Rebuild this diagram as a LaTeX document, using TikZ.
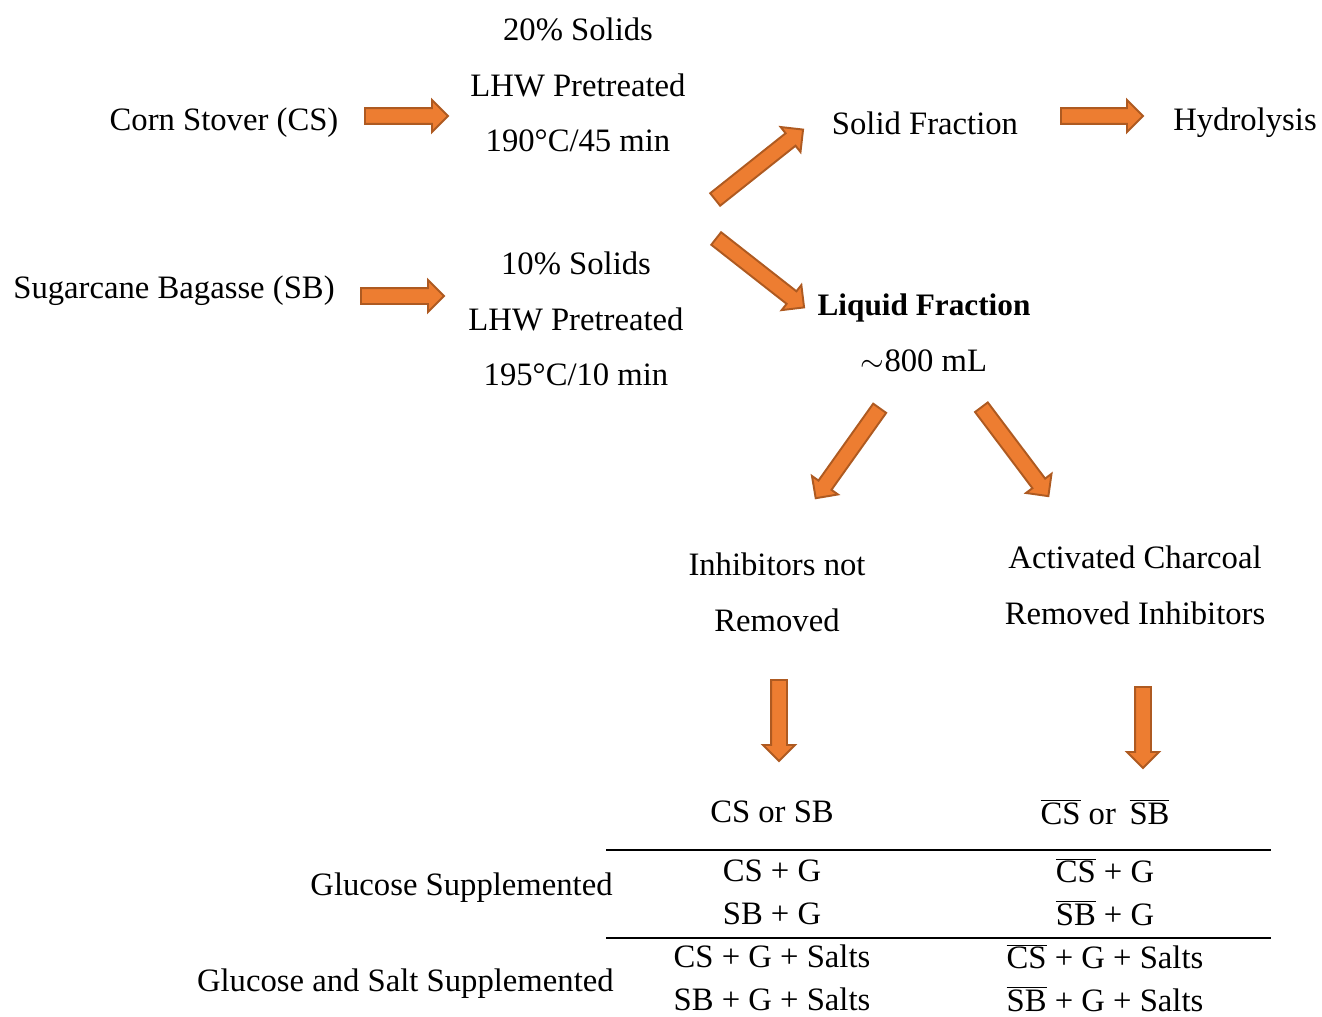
\documentclass[tikz,border=0pt]{standalone}
\usepackage{fontspec}
\setmainfont{Liberation Serif}
\usetikzlibrary{shapes.arrows,calc}

\definecolor{arroworange}{HTML}{ED7D31}
\definecolor{arrowedge}{HTML}{AE5A21}

\newcommand{\ol}[1]{$\overline{\mbox{#1}}$}
\newcommand{\fatarrow}[2]{%
  \path let \p1 = ($(#2)-(#1)$), \n1 = {veclen(\x1,\y1)} in
    (#1) -- node[fatarr, sloped, allow upside down, minimum height=\n1] {} (#2);}

\begin{document}
\begin{tikzpicture}[x=0.02cm, y=-0.02cm,
                    txt/.style = {align=center,
                                  inner sep=0pt,
                                  font=\fontsize{18.6}{31.7}\selectfont},
                    tab/.style = {align=center,
                                  inner sep=0pt,
                                  font=\fontsize{18.6}{24.4}\selectfont},
                    fatarr/.style = {single arrow,
                                     draw=arrowedge,
                                     fill=arroworange,
                                     line width=1.1pt,
                                     inner xsep=0pt,
                                     inner ysep=0.14cm,
                                     single arrow head extend=0.16cm}]
	\useasboundingbox (0,0) rectangle (1322,1017);

	% feedstocks and pretreatment
	\node[txt] (cs) at (224,123) {Corn Stover (CS)};
	\node[txt] (sb) at (174,291) {Sugarcane Bagasse (SB)};
	\node[txt] (pre1) at (578,85) {20\% Solids\\LHW Pretreated\\190°C/45 min};
	\node[txt] (pre2) at (576,319) {10\% Solids\\LHW Pretreated\\195°C/10 min};

	% fractions
	\node[txt] (solid) at (925,123) {Solid Fraction};
	\node[txt] (hydro) at (1245,123) {Hydrolysis};
	\node[txt] (liquid) at (924,333) {{\fontsize{17.8}{31.7}\selectfont\bfseries Liquid Fraction}\\$\sim$800 mL};

	% inhibitor treatment
	\node[txt] (noinh) at (777,592) {Inhibitors not\\Removed};
	\node[txt] (charc) at (1135,585) {Activated Charcoal\\Removed Inhibitors};

	% table
	\node[tab] (h1) at (772,812) {CS or SB};
	\node[tab] (h2) at (1105,812) {\ol{CS} or\, \ol{SB}};
	\node[tab] (g1) at (772,892) {CS + G\\SB + G};
	\node[tab] (g2) at (1105,892) {\ol{CS} + G\\\ol{SB} + G};
	\node[tab] (s1) at (772,978) {CS + G + Salts\\SB + G + Salts};
	\node[tab] (s2) at (1105,978) {\ol{CS} + G + Salts\\\ol{SB} + G + Salts};
	\node[txt, anchor=east] (glu) at (613,888) {Glucose Supplemented};
	\node[txt, anchor=east] (gls) at (614,984) {Glucose and Salt Supplemented};

	\coordinate (r1a) at (606,850);
	\coordinate (r1b) at (1271,850);
	\coordinate (r2a) at (606,938);
	\coordinate (r2b) at (1271,938);
	\draw[line width=1pt] (r1a) -- (r1b);
	\draw[line width=1pt] (r2a) -- (r2b);

	% arrow ends
	\coordinate (a1) at (361,116);  \coordinate (b1) at (444,116);
	\coordinate (a2) at (357,296);  \coordinate (b2) at (440,296);
	\coordinate (a3) at (1057,116); \coordinate (b3) at (1139,116);
	\coordinate (a4) at (712,202);  \coordinate (b4) at (800,132);
	\coordinate (a5) at (713,236);  \coordinate (b5) at (801,305);
	\coordinate (a6) at (882,405);  \coordinate (b6) at (818,495);
	\coordinate (a7) at (979,404);  \coordinate (b7) at (1046,493);
	\coordinate (a8) at (779,676);  \coordinate (b8) at (779,757);
	\coordinate (a9) at (1143,683); \coordinate (b9) at (1143,764);

	\foreach \i in {1,...,9} {
		\fatarrow{a\i}{b\i}
	}
\end{tikzpicture}
\end{document}
